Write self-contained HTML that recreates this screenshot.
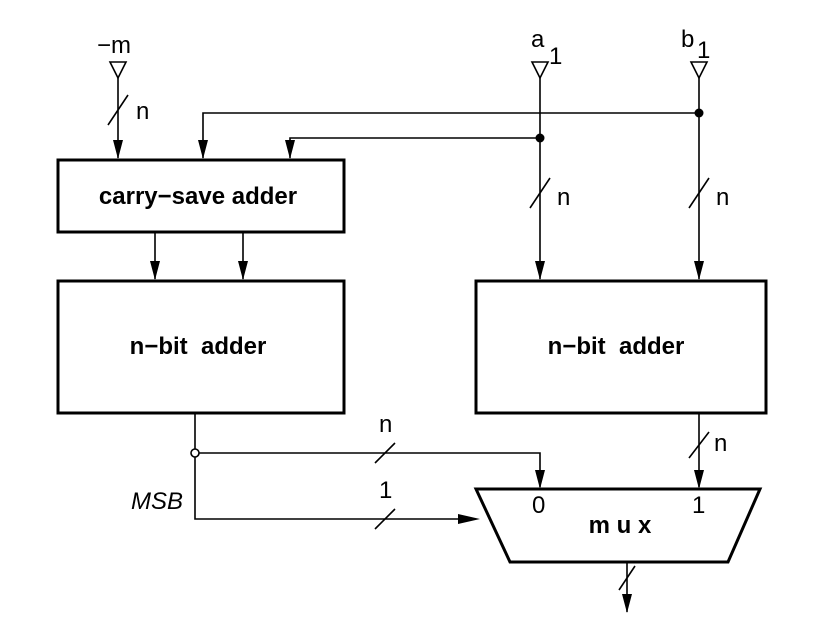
<!DOCTYPE html>
<html><head><style>body{margin:0;background:#fff}svg{display:block}text{font-family:"Liberation Sans",sans-serif;font-size:24px;fill:#000}</style></head><body>
<svg width="836" height="634" viewBox="0 0 836 634" xmlns="http://www.w3.org/2000/svg">
<g fill="none" stroke="#000" stroke-width="3">
<rect x="58" y="160" width="286" height="72"/>
<rect x="58" y="281" width="286" height="132"/>
<rect x="476" y="281" width="290" height="132"/>
<path d="M476,489 L760,489 L728,562 L510,562 Z"/>
</g>
<g fill="none" stroke="#000" stroke-width="1.6">
<path d="M118,78 V158" />
<path d="M203,158 V113 H699"/>
<path d="M290,158 V138 H540"/>
<path d="M540,78 V279"/>
<path d="M699,78 V279"/>
<path d="M155,232 V279"/>
<path d="M243,232 V279"/>
<path d="M195,413 V519 H474"/>
<path d="M199,453 H540 V487"/>
<path d="M699,413 V487"/>
<path d="M627,562 V612"/>
<path d="M108,125 L128,95 M530,208 L550,178 M689,208 L709,178 M375,463 L395,443 M375,529 L395,509 M689,458 L709,432 M619,590 L635,566"/>
<path d="M110,62 H126 L118,78 Z M532,62 H548 L540,78 Z M691,62 H707 L699,78 Z"/>
</g>
<g fill="#000">
<path d="M113,140 H123 L118,159 Z M198,140 H208 L203,159 Z M285,140 H295 L290,159 Z M535,261 H545 L540,280 Z M694,261 H704 L699,280 Z M150,261 H160 L155,280 Z M238,261 H248 L243,280 Z M535,470 H545 L540,489 Z M694,470 H704 L699,489 Z M622,594 H632 L627,613 Z M458,514 V524 L480,519 Z"/>
<circle cx="699" cy="113" r="4.5"/><circle cx="540" cy="138" r="4.5"/>
</g>
<circle cx="195" cy="453" r="4" fill="#fff" stroke="#000" stroke-width="1.6"/>
<text x="97" y="53">−m</text>
<text x="531" y="47">a</text><text x="549" y="64" font-size="19">1</text>
<text x="681" y="47">b</text><text x="697" y="58" font-size="19">1</text>
<text x="136" y="119" font-size="18">n</text>
<text x="557" y="205" font-size="18">n</text>
<text x="716" y="205" font-size="18">n</text>
<text x="198" y="204" font-weight="bold" text-anchor="middle">carry−save adder</text>
<text x="198" y="354" font-weight="bold" text-anchor="middle">n−bit&#160; adder</text>
<text x="616" y="354" font-weight="bold" text-anchor="middle">n−bit&#160; adder</text>
<text x="379" y="432" font-size="18">n</text>
<text x="379" y="498" font-size="18">1</text>
<text x="714" y="451" font-size="18">n</text>
<text x="131" y="509" font-style="italic">MSB</text>
<text x="532" y="513">0</text>
<text x="692" y="513">1</text>
<text x="620" y="533" font-weight="bold" text-anchor="middle">m u x</text>
</svg></body></html>
